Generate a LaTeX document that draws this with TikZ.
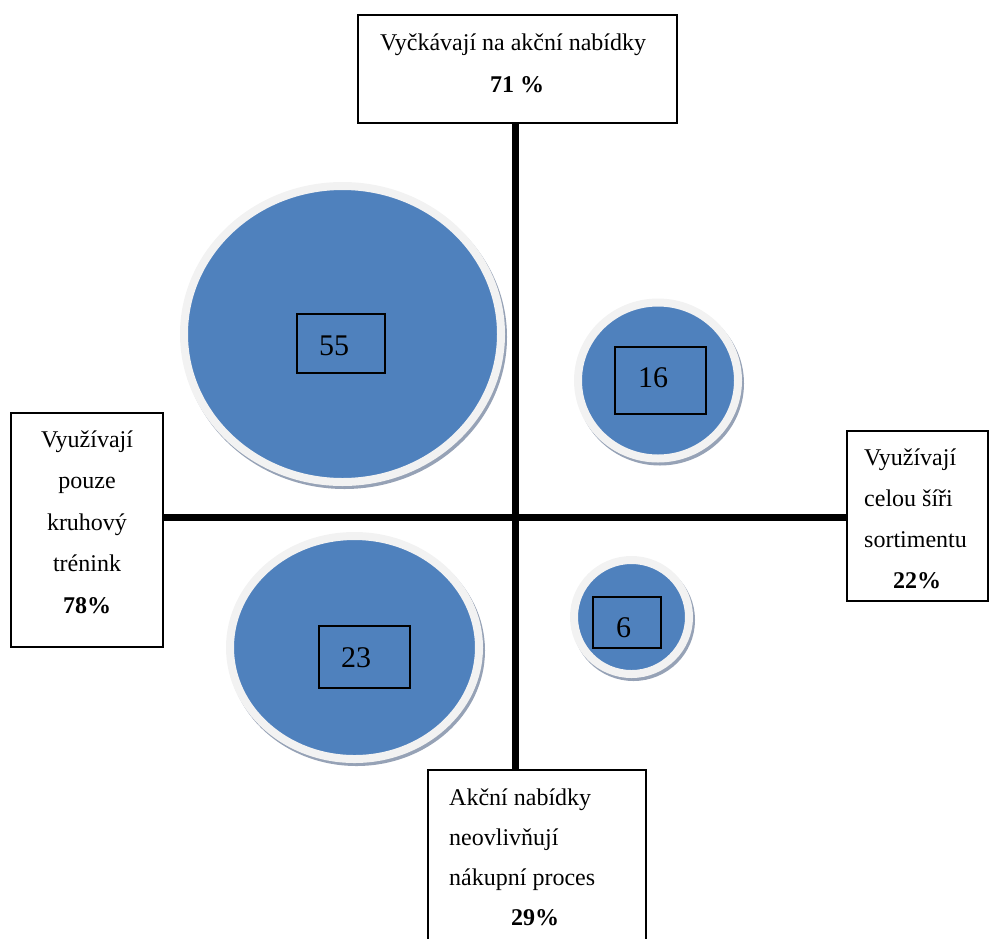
\documentclass[tikz,border=0pt]{standalone}
\usepackage{fontspec}
\setmainfont{Liberation Serif}
\usetikzlibrary{shapes.geometric}
\definecolor{bubbleblue}{RGB}{79,129,189}
\definecolor{ringgrey}{RGB}{242,242,242}
\definecolor{shadowgrey}{RGB}{150,162,182}
\tikzset{
  labelbox/.style={draw=black, line width=1.5pt, fill=white, inner sep=0pt},
  numbox/.style={draw=black, line width=1.3pt, inner sep=0pt},
  bubble/.style={ellipse, inner sep=0pt, fill=bubbleblue, draw=ringgrey, line width=8pt,
    preaction={draw=shadowgrey, line width=8pt, transform canvas={xshift=2pt, yshift=-3pt}}},
  axisline/.style={line width=7.5pt, draw=black},
  txt/.style={font=\fontsize{24}{24}\selectfont, inner sep=0pt},
  num/.style={font=\fontsize{30}{30}\selectfont, inner sep=0pt, anchor=base west},
}
\begin{document}
\begin{tikzpicture}[x=1pt, y=-1pt]
\useasboundingbox (0,0) rectangle (990,938);
\begin{scope}
\clip (0,0) rectangle (990,938);

% bubbles
\node[bubble, minimum width=317pt, minimum height=296pt] (b55) at (342.5,334) {};
\node[bubble, minimum width=160pt, minimum height=156pt] (b16) at (658,380.5) {};
\node[bubble, minimum width=115pt, minimum height=114pt] (b6) at (631.5,617) {};
\node[bubble, minimum width=249pt, minimum height=223pt] (b23) at (354.5,647.5) {};

% value boxes inside the bubbles
\node[numbox, minimum width=88pt, minimum height=59pt] (n55) at (341,343.5) {};
\node[num] (t55) at (319,355) {55};
\node[numbox, minimum width=91pt, minimum height=67pt] (n16) at (660.5,380.5) {};
\node[num] (t16) at (638,387) {16};
\node[numbox, minimum width=68pt, minimum height=51pt] (n6) at (627,622.5) {};
\node[num] (t6) at (616,637) {6};
\node[numbox, minimum width=91pt, minimum height=62pt] (n23) at (364.5,657) {};
\node[num] (t23) at (341,667) {23};

% axis end boxes
\node[labelbox, minimum width=319pt, minimum height=108pt] (top) at (517.5,69) {};
\node[labelbox, minimum width=152pt, minimum height=234pt] (left) at (87,530) {};
\node[labelbox, minimum width=141pt, minimum height=170pt] (right) at (917.5,516) {};
\node[labelbox, minimum width=218pt, minimum height=190pt] (bottom) at (537,865) {};

% axes
\coordinate (cross) at (515.5,517.5);
\draw[axisline] (top.south -| cross) -- (bottom.north -| cross);
\draw[axisline] (left.east |- cross) -- (right.west |- cross);

% top box text
\node[txt, anchor=base west] (top1) at (380,50) {Vyčkávají na akční nabídky};
\node[txt, anchor=base] (top2) at (517,92) {\textbf{71 \%}};

% left box text
\node[txt, anchor=base] (left1) at (87,447) {Využívají};
\node[txt, anchor=base] (left2) at (87,488.5) {pouze};
\node[txt, anchor=base] (left3) at (87,530) {kruhový};
\node[txt, anchor=base] (left4) at (87,571.5) {trénink};
\node[txt, anchor=base] (left5) at (87,613) {\textbf{78\%}};

% right box text
\node[txt, anchor=base west] (right1) at (864,465) {Využívají};
\node[txt, anchor=base west] (right2) at (864,506) {celou šíři};
\node[txt, anchor=base west] (right3) at (864,547) {sortimentu};
\node[txt, anchor=base] (right4) at (917,588) {\textbf{22\%}};

% bottom box text
\node[txt, anchor=base west] (bot1) at (449,805) {Akční nabídky};
\node[txt, anchor=base west] (bot2) at (449,845) {neovlivňují};
\node[txt, anchor=base west] (bot3) at (449,885) {nákupní proces};
\node[txt, anchor=base] (bot4) at (535,925) {\textbf{29\%}};
\end{scope}
\end{tikzpicture}
\end{document}
